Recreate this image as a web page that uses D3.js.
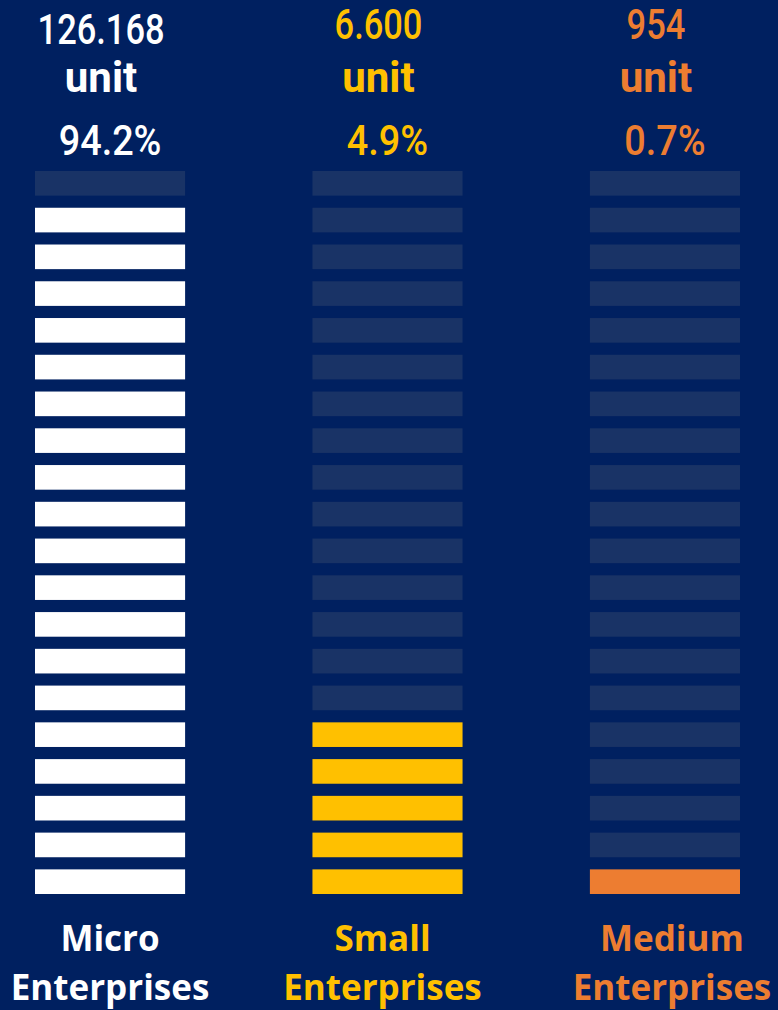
<!DOCTYPE html>
<html>
<head>
<meta charset="utf-8">
<script src="https://cdn.jsdelivr.net/npm/d3@7"></script>
<style>
  html, body { margin: 0; padding: 0; background: #002060; }
  svg { display: block; }
</style>
</head>
<body>
<div id="chart"></div>
<script>
// data
const categories = ["Micro", "Small", "Medium"];
const labelLines = [["Micro", "Enterprises"], ["Small", "Enterprises"], ["Medium", "Enterprises"]];
const unitCounts = ["126.168", "6.600", "954"];
const shares = [94.2, 4.9, 0.7];
const filledBlocks = [19, 5, 1];
const totalBlocks = 20;
const colors = ["#FFFFFF", "#FFC000", "#ED7D31"];

var width = 778, height = 1010;

const svg = d3.select("#chart")
    .append("svg")
    .attr("width", width)
    .attr("height", height);

svg.append("rect")
    .attr("width", width)
    .attr("height", height)
    .attr("fill", "#002060");

// scales
const x = d3.scaleBand()
    .domain(categories)
    .range([35, 740])
    .paddingInner(0.459);

const slots = d3.range(totalBlocks); // 0 = bottom
const y = d3.scaleBand()
    .domain(slots.slice().reverse())
    .range([171, 894])
    .paddingInner(0.33);

const color = d3.scaleOrdinal().domain(categories).range(colors);

const numFont = "Roboto, sans-serif";
const labelFont = "'Open Sans', sans-serif";

const cols = svg.selectAll("g.col")
    .data(categories)
    .join("g")
    .attr("class", "col");

// blocks
cols.each(function (cat, i) {
    d3.select(this)
        .selectAll("rect")
        .data(slots)
        .join("rect")
        .attr("x", x(cat))
        .attr("y", d => y(d))
        .attr("width", x.bandwidth())
        .attr("height", y.bandwidth())
        .attr("fill", d => d < filledBlocks[i] ? color(cat) : "#193366");
});

// narrow (DIN-like) number text
function narrowText(sel, cx, yPos, txt, weight, squeeze) {
    sel.append("g")
        .attr("transform", `translate(${cx},${yPos}) scale(${squeeze},1)`)
        .append("text")
        .attr("text-anchor", "middle")
        .style("font-family", numFont)
        .style("font-size", "42px")
        .style("font-weight", weight)
        .attr("fill", color(sel.datum()))
        .text(txt);
}

cols.each(function (cat, i) {
    const g = d3.select(this);
    const cx = x(cat) + x.bandwidth() / 2;
    narrowText(g, cx - 9, i == 0 ? 44 : 39, unitCounts[i], 500, 0.82);
    narrowText(g, cx - 9, 92, "unit", "bold", 1);
    narrowText(g, cx, 155, shares[i].toFixed(1) + "%", 500, 0.9);
});

// bottom labels
cols.each(function (cat, i) {
    const t = d3.select(this).append("text")
        .attr("text-anchor", "middle")
        .style("font-family", labelFont)
        .style("font-size", "35px")
        .style("font-weight", "bold")
        .attr("fill", color(cat));
    labelLines[i].forEach((line, j) => {
        t.append("tspan")
            .attr("x", x(cat) + x.bandwidth() / 2 + (i == 2 ? 7 : (i == 1 ? -5 : 0)))
            .attr("y", 951 + j * 49)
            .text(line);
    });
});
</script>
</body>
</html>
